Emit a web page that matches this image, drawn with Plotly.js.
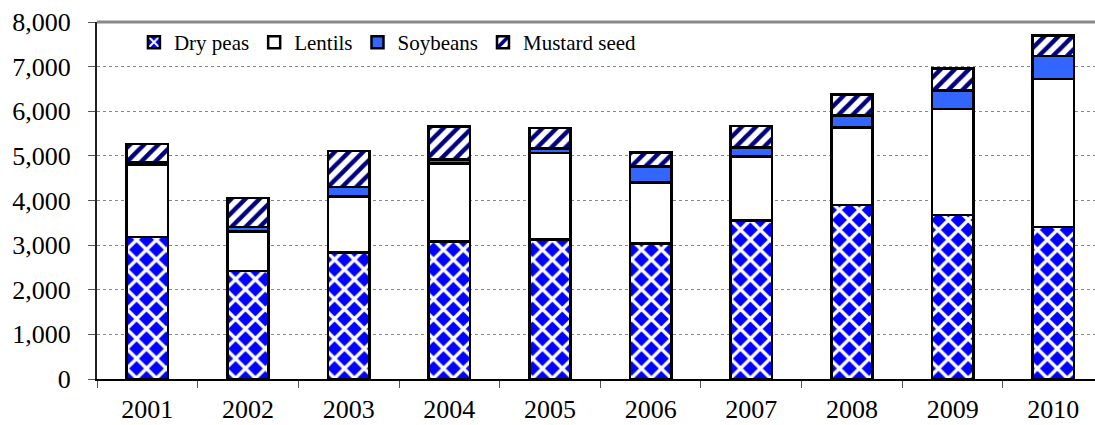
<!DOCTYPE html>
<html>
<head>
<meta charset="utf-8">
<script src="https://cdn.plot.ly/plotly-3.0.1.min.js"></script>
<style>
  html, body { margin: 0; padding: 0; background: #fff; overflow: hidden; }
  #chart { width: 1095px; height: 425px; }
</style>
</head>
<body>
<div id="chart"></div>
<script>
// Data
const years = ["2001", "2002", "2003", "2004", "2005", "2006", "2007", "2008", "2009", "2010"];
const dryPeas = [3180, 2420, 2840, 3080, 3130, 3040, 3550, 3900, 3680, 3410];
const lentils = [1620, 880, 1250, 1750, 1940, 1360, 1440, 1740, 2370, 3310];
const soybeans = [50, 110, 210, 90, 100, 360, 200, 260, 410, 520];
const mustardSeed = [420, 650, 810, 740, 450, 320, 480, 470, 500, 460];
const yTickVals = [0, 1000, 2000, 3000, 4000, 5000, 6000, 7000, 8000];
const yTickText = ["0", "1,000", "2,000", "3,000", "4,000", "5,000", "6,000", "7,000", "8,000"];

const outline = { color: "#000000", width: 2.5 };
const barWidth = 0.41;
const serif = "Liberation Serif";

const traces = [
  {
    type: "bar", name: "Dry peas", x: years, y: dryPeas, width: barWidth,
    marker: {
      color: "#0000ff", line: outline,
      pattern: { shape: "x", fgcolor: "#ffffff", bgcolor: "#0000ff", size: 14, solidity: 0.42 }
    }
  },
  {
    type: "bar", name: "Lentils", x: years, y: lentils, width: barWidth,
    marker: { color: "#ffffff", line: outline }
  },
  {
    type: "bar", name: "Soybeans", x: years, y: soybeans, width: barWidth,
    marker: { color: "#3366ff", line: outline }
  },
  {
    type: "bar", name: "Mustard seed", x: years, y: mustardSeed, width: barWidth,
    marker: {
      color: "#ffffff", line: outline,
      pattern: { shape: "/", fgcolor: "#000080", bgcolor: "#ffffff", size: 10, solidity: 0.45 }
    }
  }
];

const layout = {
  width: 1095, height: 425,
  margin: { l: 97, r: 0, t: 22, b: 46, pad: 0 },
  barmode: "stack",
  paper_bgcolor: "#ffffff",
  plot_bgcolor: "#ffffff",
  font: { family: serif, color: "#000000", size: 21 },
  showlegend: true,
  legend: {
    orientation: "h", traceorder: "normal",
    x: 0.037, xanchor: "left", y: 1.0, yanchor: "top",
    bgcolor: "rgba(0,0,0,0)", font: { family: serif, size: 21, color: "#000000" }
  },
  xaxis: {
    type: "category",
    range: [-0.5, 9.414],
    showline: true, linecolor: "#000000", linewidth: 2,
    ticks: "outside", tickson: "boundaries", ticklen: 7, tickcolor: "#555555", tickwidth: 1,
    ticklabelstandoff: 6,
    tickfont: { family: serif, size: 26, color: "#000000" },
    showgrid: false, zeroline: false, fixedrange: true
  },
  yaxis: {
    range: [0, 8000],
    tickvals: yTickVals, ticktext: yTickText,
    showline: true, linecolor: "#222222", linewidth: 2,
    ticks: "outside", ticklen: 7, tickcolor: "#555555", tickwidth: 1,
    ticklabelstandoff: 12,
    tickfont: { family: serif, size: 26, color: "#000000" },
    showgrid: true, gridcolor: "#888888", gridwidth: 1, griddash: "dot",
    zeroline: false, fixedrange: true
  },
  shapes: [
    { type: "line", xref: "paper", yref: "paper", x0: 0, x1: 1, y0: 1, y1: 1,
      line: { color: "#888888", width: 3 } }
  ]
};

Plotly.newPlot("chart", traces, layout, { displayModeBar: false, staticPlot: true });
</script>
</body>
</html>
